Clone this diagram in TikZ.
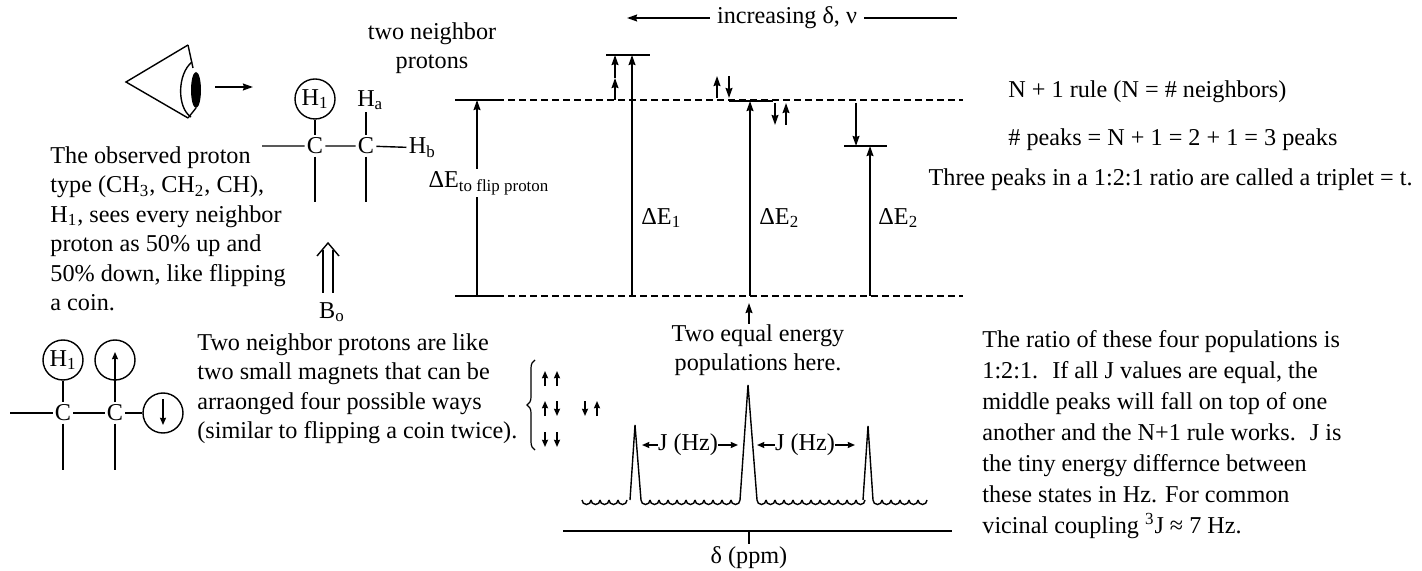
\documentclass[tikz,border=0pt]{standalone}
\usepackage{fontspec}
\setmainfont{Liberation Serif}
\usetikzlibrary{arrows.meta,positioning,decorations.pathreplacing}

% H with a subscript that does not shift the centre
\newcommand\Hs[1]{H\rlap{\textsubscript{#1}}}

\tikzset{
  lvl/.style={line width=0.9pt},
  gap/.style={line width=0.9pt,dash pattern=on 3.5pt off 2pt},
  up/.style={line width=0.9pt,-{Stealth[length=5pt,width=3.4pt,inset=0.5pt]}},
  spin/.style={line width=0.9pt,-{Stealth[length=3.6pt,width=3pt,inset=0.3pt]}},
  bond/.style={line width=0.7pt},
  spec/.style={line width=0.7pt},
  atom/.style={inner sep=1pt},
  ring/.style={draw,circle,line width=0.7pt,minimum size=20pt,inner sep=0pt},
  txt/.style={align=left,inner sep=0pt},
}

\begin{document}
\begin{tikzpicture}[x=0.5pt,y=-0.5pt,font=\fontsize{12.1}{14.75}\selectfont]
  \useasboundingbox (0,0) rectangle (1422,571);

  % the eye
  \draw[bond] (188,45) -- (126,82) -- (188,118);
  \draw[bond] (188,45) -- (193,68);
  \draw[bond] (196,108) -- (188,118);
  \fill (196,90) ellipse (5 and 18);
  \draw[bond] (192,62) .. controls (177,74) and (177,108) .. (191,117);
  \coordinate (look) at (215,87);
  \coordinate (seen) at (253,87);
  \draw[up] (look) -- (seen);

  % fragment with H1, Ha, Hb
  \node[ring] (h1) at (315,99) {H\textsubscript{1}};
  \node[atom] (c1) at (315,146) {C};
  \node[atom] (c2) at (366,146) {C};
  \node[atom] (ha) at (366,100) {\Hs{a}};
  \node[atom,base right=15pt of c2] (hb) {H\textsubscript{b}};
  \coordinate (l1) at (262,146);
  \coordinate (d1) at (315,202);
  \coordinate (d2) at (366,202);
  \draw[bond] (l1) -- (c1) -- (c2) -- (hb);
  \draw[bond] (h1) -- (c1) -- (d1);
  \draw[bond] (ha) -- (c2) -- (d2);

  \node[align=center] (two) at (432,48) {two neighbor\\protons};

  % applied field
  \node (bo) at (332,312) {B\textsubscript{o}};
  \coordinate (field) at (328,243);
  \draw[bond] (field) ++(-5,7) -- ++(0,43);
  \draw[bond] (field) ++(5,7) -- ++(0,43);
  \draw[bond] (field) ++(-11,13) -- (field) -- ++(11,13);

  \node[txt,anchor=north west] (obs) at (50,146) {The observed proton\\
    type (CH\textsubscript{3}, CH\textsubscript{2}, CH),\\
    H\textsubscript{1}, sees every neighbor\\
    proton as 50\% up and\\
    50\% down, like flipping\\
    a coin.};

  % energy levels
  \node (incr) at (787,18) {increasing δ, ν};
  \coordinate (hi) at (627,18);
  \coordinate (lo) at (957,18);
  \draw[up] (incr.west) -- (hi);
  \draw[lvl] (incr.east) -- (lo);

  \coordinate (a0) at (455,100);
  \coordinate (a1) at (497,100);
  \coordinate (a2) at (963,100);
  \coordinate (b0) at (455,296);
  \coordinate (b1) at (497,296);
  \coordinate (b2) at (963,296);
  \draw[lvl] (a0) -- (a1);
  \draw[gap] (a1) -- (a2);
  \draw[lvl] (b0) -- (b1);
  \draw[gap] (b1) -- (b2);

  \coordinate (e0) at (477,296);
  \coordinate (e1) at (477,100);
  \draw[up] (e0) -- (e1);
  \node[fill=white,inner sep=1pt] (flip) at (489,183) {ΔE\textsubscript{to flip proton}};

  % both up
  \coordinate (t0) at (606,55);
  \coordinate (t1) at (650,55);
  \draw[lvl] (t0) -- (t1);
  \draw[up] (632,296) -- (632,55);
  \draw[up] (615,100) -- (615,78);
  \draw[up] (615,78) -- (615,55);
  \node[anchor=west,inner sep=0pt] (de1) at (641,218) {ΔE\textsubscript{1}};

  % one up, one down
  \coordinate (m0) at (729,101);
  \coordinate (m1) at (773,101);
  \draw[lvl] (m0) -- (m1);
  \draw[up] (750,296) -- (750,101);
  \draw[up] (717,98) -- (717,76);
  \draw[up] (729,76) -- (729,98);
  \draw[up] (775,103) -- (775,125);
  \draw[up] (786,125) -- (786,103);
  \node[anchor=west,inner sep=0pt] (de2) at (759,218) {ΔE\textsubscript{2}};

  % both down
  \coordinate (r0) at (844,146);
  \coordinate (r1) at (887,146);
  \draw[lvl] (r0) -- (r1);
  \draw[up] (870,296) -- (870,146);
  \draw[up] (856,103) -- (856,146);
  \node[anchor=west,inner sep=0pt] (de3) at (878,218) {ΔE\textsubscript{2}};

  \node[align=center,inner sep=0pt] (pop) at (758,350) {Two equal energy\\populations here.};
  \coordinate (popup) at (749,303);
  \draw[up] (popup |- pop.north) -- (popup);

  % rule
  \node[anchor=west,inner sep=0pt] (rule) at (1008,92) {N + 1 rule (N = \# neighbors)};
  \node[anchor=west,inner sep=0pt] (npk) at (1008,140) {\# peaks = N + 1 = 2 + 1 = 3 peaks};
  \node[anchor=east,inner sep=0pt] (trip) at (1413,180) {Three peaks in a 1:2:1 ratio are called a triplet = t.};

  % lower fragment with spins
  \node[ring] (h1b) at (63,360) {H\textsubscript{1}};
  \node[ring] (upb) at (115,360) {};
  \node[ring] (dnb) at (163,413) {};
  \node[atom] (c3) at (63,413) {C};
  \node[atom] (c4) at (115,413) {C};
  \coordinate (l3) at (10,413);
  \coordinate (d3) at (63,470);
  \coordinate (d4) at (115,470);
  \coordinate (upt) at (115,352);
  \coordinate (dn0) at (163,399);
  \coordinate (dn1) at (163,425);
  \draw[bond] (l3) -- (c3) -- (c4) -- (dnb);
  \draw[bond] (h1b) -- (c3) -- (d3);
  \draw[bond] (c4) -- (d4);
  \draw[spin] (c4) -- (upt);
  \draw[spin] (dn0) -- (dn1);

  \node[txt,anchor=north west] (mag) at (197,333) {Two neighbor protons are like\\
    two small magnets that can be\\
    arraonged four possible ways\\
    (similar to flipping a coin twice).};

  % the four arrangements
  \draw[line width=0.6pt,decorate,decoration={brace,amplitude=4pt}] (535,450) -- (535,360);
  \foreach \x/\from/\to in {545/386/371, 557/386/371, 545/416/401, 557/401/416,
                            585/401/416, 597/416/401, 545/432/447, 557/432/447}
    \draw[spin] (\x,\from) -- (\x,\to);

  % triplet
  \foreach \s/\n in {582/5, 641/11, 757/12, 873/6}
    \foreach \i in {1,...,\n}
      \draw[spec] (\s+9*\i-9,500) arc[start angle=180,end angle=0,radius=4.5];
  \draw[spec] (630,500) -- (635,425) -- (641,500);
  \draw[spec] (740,500) -- (748,385) -- (757,500);
  \draw[spec] (863,500) -- (868,426) -- (873,500);

  \node[inner sep=0pt] (j1) at (688,445) {J (Hz)};
  \node[inner sep=0pt] (j2) at (805,445) {J (Hz)};
  \coordinate (p1) at (642,445);
  \coordinate (p2) at (738,445);
  \coordinate (p3) at (757,445);
  \coordinate (p4) at (855,445);
  \draw[spin] (j1.west) -- (p1);
  \draw[spin] (j1.east) -- (p2);
  \draw[spin] (j2.west) -- (p3);
  \draw[spin] (j2.east) -- (p4);

  \coordinate (ax0) at (563,531);
  \coordinate (ax1) at (952,531);
  \coordinate (tick) at (749,544);
  \draw[lvl] (ax0) -- (ax1);
  \draw[lvl] (749,531) -- (tick);
  \node[inner sep=0pt] (ppm) at (749,558) {δ (ppm)};

  \node[txt,anchor=north west,font=\fontsize{12.1}{15.5}\selectfont] (ratio) at (982,330) {The ratio of these four populations is\\
    1:2:1.~ If all J values are equal, the\\
    middle peaks will fall on top of one\\
    another and the N+1 rule works.~ J is\\
    the tiny energy differnce between\\
    these states in Hz. For common\\
    vicinal coupling \textsuperscript{3}J ≈ 7 Hz.};
\end{tikzpicture}
\end{document}
